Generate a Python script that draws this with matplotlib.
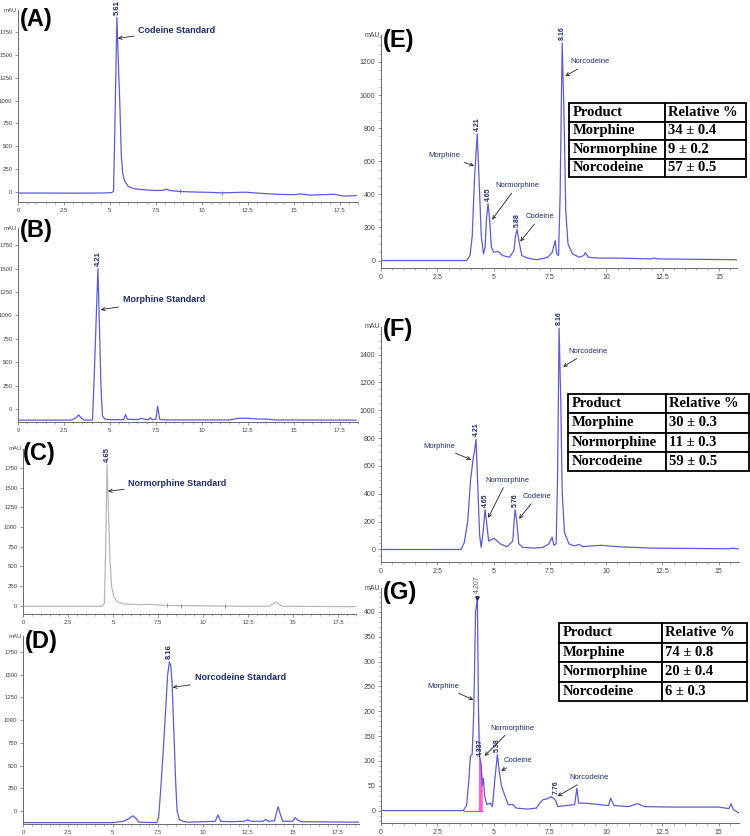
#!/usr/bin/env python
"""
HPLC chromatograms: standards (A-D) and biotransformation products (E-G).
Outputs: out.png
"""
import matplotlib
matplotlib.use("Agg")
import matplotlib.pyplot as plt
from matplotlib.ticker import MultipleLocator, FuncFormatter

plt.rcParams["font.family"] = ["Liberation Sans", "DejaVu Sans"]

# ---------------------------------------------------------------- data
# (A) codeine standard
A_t = [0, 1.5, 3.0, 4.5, 5.1, 5.2, 5.26, 5.38, 5.48, 5.55, 5.62, 5.7, 5.8, 6.0, 6.3,
       6.8, 7.5, 7.9, 8.05, 8.3, 8.8, 9.5, 10.5, 11.1, 12.0, 12.4, 13.2, 14.0, 15.0,
       15.4, 15.9, 16.6, 17.2, 17.7, 18.4]
A_y = [-12, -12, -13, -12, -8, 10, 600, 1910, 1300, 900, 400, 200, 120, 60, 35,
       25, 15, 18, 30, 15, 5, 0, -5, -10, -5, -3, -15, -25, -30,
       -22, -35, -30, -25, -45, -40]
A_marks_t = [8.8, 11.1]
A_marks_y = [5, -10]

# (B) morphine standard
B_t = [0, 2.9, 3.15, 3.3, 3.45, 3.6, 4.05, 4.12, 4.35, 4.52, 4.6, 4.75, 5.0, 5.75,
       5.85, 5.95, 6.5, 6.7, 6.85, 7.1, 7.2, 7.3, 7.5, 7.6, 7.7, 8.0, 11.5, 12.0,
       12.5, 13.0, 13.6, 14.0, 18.4]
B_y = [-120, -120, -95, -65, -100, -120, -120, 200, 1500, 200, -80, -110, -115, -115,
       -60, -110, -115, -100, -110, -115, -95, -115, -110, 30, -110, -118, -118, -100,
       -100, -108, -110, -118, -120]

# (C) normorphine standard
C_t = [0, 4.4, 4.52, 4.58, 4.67, 4.75, 4.83, 4.92, 5.05, 5.25, 5.6, 6.5, 7.0, 7.5,
       8.0, 10.0, 12.0, 13.7, 13.9, 14.05, 14.2, 14.4, 18.5]
C_y = [-5, -5, 30, 600, 1790, 1200, 600, 250, 110, 50, 25, 15, 20, 10,
       5, 0, -5, -5, 30, 50, 20, -5, -10]
C_marks_t = [8.0, 8.8, 11.2]
C_marks_y = [5, 3, 0]

# (D) norcodeine standard
D_t = [0, 5.0, 5.6, 5.9, 6.1, 6.25, 6.45, 7.45, 7.55, 7.65, 7.8, 7.95, 8.05, 8.15,
       8.22, 8.3, 8.4, 8.5, 8.58, 8.7, 8.9, 9.2, 10.0, 10.7, 10.85, 11.0, 11.5,
       12.3, 12.5, 12.7, 13.35, 13.5, 13.65, 14.0, 14.1, 14.2, 14.3, 14.45, 15.0,
       15.15, 15.3, 15.5, 18.7]
D_y = [-125, -125, -110, -80, -50, -70, -120, -125, -60, 200, 650, 1150, 1500, 1640,
       1600, 1400, 850, 300, 0, -90, -110, -120, -115, -110, -40, -110, -115,
       -110, -95, -110, -110, -90, -110, -105, -20, 50, -20, -110, -110,
       -70, -100, -115, -120]

# (E) sample 1
E_t = [0, 3.8, 3.95, 4.05, 4.15, 4.27, 4.35, 4.45, 4.55, 4.62, 4.68, 4.75, 4.82,
       4.9, 5.0, 5.2, 5.4, 5.7, 5.9, 5.97, 6.04, 6.12, 6.25, 6.5, 6.9, 7.1, 7.4,
       7.6, 7.73, 7.8, 7.88, 7.95, 8.04, 8.12, 8.2, 8.3, 8.5, 8.8, 9.0, 9.07, 9.2,
       9.6, 10.5, 12.0, 12.1, 12.3, 15.8]
E_y = [0, 0, 30, 150, 500, 766, 500, 150, 40, 80, 250, 344, 250,
       80, 50, 55, 30, 20, 60, 150, 187, 120, 30, 15, 5, 10, 20,
       50, 120, 40, 30, 400, 1315, 900, 300, 100, 40, 20, 30, 48, 20,
       15, 15, 10, 15, 10, 5]

# (F) sample 2
F_t = [0, 3.55, 3.7, 3.85, 3.98, 4.09, 4.15, 4.22, 4.3, 4.38, 4.45, 4.55, 4.62,
       4.7, 4.78, 4.9, 5.0, 5.1, 5.3, 5.6, 5.85, 5.92, 5.96, 6.03, 6.12, 6.3, 6.8,
       7.2, 7.45, 7.6, 7.68, 7.78, 7.84, 7.91, 7.98, 8.05, 8.15, 8.35, 8.6, 8.8,
       8.95, 9.3, 9.8, 10.5, 12.0, 15.5, 15.6, 15.9]
F_y = [0, 0, 50, 200, 500, 650, 700, 792, 450, 100, 15, 150, 286,
       180, 60, 70, 80, 70, 40, 20, 60, 220, 286, 200, 40, 15, 10,
       15, 40, 88, 30, 40, 500, 1590, 1100, 400, 120, 40, 25, 37,
       20, 25, 30, 20, 10, 5, 10, 3]

# (G) sample 3
G_t = [0, 3.65, 3.8, 3.9, 3.97, 4.05, 4.12, 4.2, 4.28, 4.33, 4.37, 4.4, 4.45,
       4.5, 4.55, 4.6, 4.7, 4.85, 4.95, 5.05, 5.17, 5.25, 5.35, 5.5, 5.65, 5.86,
       6.0, 6.5, 6.9, 7.05, 7.2, 7.4, 7.55, 7.65, 7.76, 7.85, 8.2, 8.6, 8.7, 8.78,
       9.0, 9.5, 10.1, 10.2, 10.35, 11.0, 11.4, 11.7, 13.0, 15.0, 15.45, 15.55,
       15.65, 15.9]
G_y = [0, 0, 10, 60, 110, 113, 200, 400, 428, 200, 110, 105, 90,
       50, 65, 30, 12, 15, 8, 60, 113, 80, 50, 30, 12, 12,
       5, 3, 5, 15, 22, 24, 28, 25, 20, 8, 10, 12, 45, 15,
       15, 13, 10, 25, 10, 8, 14, 8, 7, 7, 4, 14,
       2, -5]
G_integ = (4.33, 4.5)       # shaded (magenta) integration window
G_base = [3.7, 4.5]         # integration baseline

# peak labels
A_pk = (["5.61"], [5.38], [1910])
B_pk = (["4.21"], [4.35], [1500])
C_pk = (["4.65"], [4.67], [1790])
D_pk = (["8.16"], [8.15], [1640])
E_pk = (["4.21", "4.65", "5.88", "8.16"], [4.27, 4.75, 6.04, 8.04], [766, 344, 187, 1315])
F_pk = (["4.21", "4.65", "5.76", "8.16"], [4.22, 4.62, 5.96, 7.91], [792, 286, 286, 1590])
G_pk = (["4.337", "5.38", "7.76"], [4.4, 5.17, 7.76], [105, 113, 28])
G_main = ("4.207", 4.28, 428)

# relative composition tables
products = ["Morphine", "Normorphine", "Norcodeine"]
E_rel = ["34 ± 0.4", "9 ± 0.2", "57 ± 0.5"]
F_rel = ["30 ± 0.3", "11 ± 0.3", "59 ± 0.5"]
G_rel = ["74 ± 0.8", "20 ± 0.4", "6 ± 0.3"]

# ---------------------------------------------------------------- style
W, H = 750, 836
TRACE = "#5c5cd8"
GREY_TRACE = "#b8b8b8"
NAVY = "#1f2d6e"
AXIS = "#6a6a6a"
PINK = "#ff44cc"

fig = plt.figure(figsize=(W / 100, H / 100), dpi=100, facecolor="white")


def px_axes(left, top, right, bottom):
    return fig.add_axes([left / W, 1 - bottom / H, (right - left) / W, (bottom - top) / H])


def style(ax, xlim, ylim, ymajor, yminor, fs):
    ax.set_xlim(*xlim)
    ax.set_ylim(*ylim)
    ax.xaxis.set_major_locator(MultipleLocator(2.5))
    ax.xaxis.set_minor_locator(MultipleLocator(0.5))
    ax.xaxis.set_major_formatter(FuncFormatter(lambda v, p: f"{v:g}"))
    ax.yaxis.set_major_locator(MultipleLocator(ymajor))
    if yminor:
        ax.yaxis.set_minor_locator(MultipleLocator(yminor))
    for s in ("top", "right"):
        ax.spines[s].set_visible(False)
    for s in ("left", "bottom"):
        ax.spines[s].set_color(AXIS)
        ax.spines[s].set_linewidth(0.7)
    ax.tick_params(which="major", length=2.5, width=0.5, colors=AXIS,
                   labelsize=fs, pad=1.5, labelcolor="#444444")
    ax.tick_params(which="minor", length=1.5, width=0.4, colors=AXIS)
    ax.text(-0.004, 1.0, "mAU", transform=ax.transAxes, ha="right", va="center",
            fontsize=fs, color="#444444")
    ax.patch.set_alpha(0)


def peak_labels(ax, pk, fs, weight="bold", color=NAVY):
    for lbl, t, h in zip(*pk):
        ax.annotate(lbl, (t, h), xytext=(0, 2), textcoords="offset points",
                    rotation=90, ha="center", va="bottom", fontsize=fs,
                    fontweight=weight, color=color, annotation_clip=False)


def label(ax, text, target, pos, fs, weight="normal", ha="center"):
    ax.annotate(text, xy=target, xytext=pos, fontsize=fs, fontweight=weight,
                color=NAVY, ha=ha, va="center",
                arrowprops=dict(arrowstyle="->", color="#222222", lw=0.6,
                                shrinkA=1, shrinkB=0, mutation_scale=6))


def panel_tag(x, y, tag):
    fig.text(x / W, 1 - y / H, tag, fontsize=17, fontweight="bold", va="top", ha="left")


def table(left, top, right, bottom, rel, col):
    tax = px_axes(left, top, right, bottom)
    tax.axis("off")
    rows = [["Product", "Relative %"]] + [[p, r] for p, r in zip(products, rel)]
    tbl = tax.table(cellText=rows, colWidths=[col, 1 - col], bbox=[0, 0, 1, 1],
                    cellLoc="left")
    tbl.auto_set_font_size(False)
    for cell in tbl.get_celld().values():
        cell.set_linewidth(1.3)
        cell.set_edgecolor("black")
        cell.PAD = 0.04
        cell.get_text().set_fontfamily("Liberation Serif")
        cell.get_text().set_fontweight("bold")
        cell.get_text().set_fontsize(10.5)


# ---------------------------------------------------------------- left column
axA = px_axes(18, 10, 358, 202)
axA.plot(A_t, A_y, color=TRACE, lw=0.9)
axA.plot(A_marks_t, A_marks_y, ls="none", marker="|", ms=3, color=TRACE, mew=0.6)
style(axA, (0, 18.5), (-110, 1990), 250, None, 4.3)
peak_labels(axA, A_pk, 5.5)
label(axA, "Codeine Standard", (5.43, 1680), (6.55, 1770), 6.5, "bold", ha="left")

axB = px_axes(18, 228, 358, 422)
axB.plot(B_t, B_y, color=TRACE, lw=0.9)
style(axB, (0, 18.5), (-140, 1934), 250, None, 4.3)
peak_labels(axB, B_pk, 5.5)
label(axB, "Morphine Standard", (4.5, 1060), (5.7, 1166), 6.5, "bold", ha="left")

axC = px_axes(23, 449, 356, 614)
axC.plot(C_t, C_y, color=GREY_TRACE, lw=0.9)
axC.plot(C_marks_t, C_marks_y, ls="none", marker="|", ms=3, color="#888888", mew=0.6)
style(axC, (0, 18.5), (-103, 1990), 250, None, 4.3)
peak_labels(axC, C_pk, 5.5)
label(axC, "Normorphine Standard", (4.72, 1454), (5.83, 1557), 6.5, "bold", ha="left")

axD = px_axes(23, 636, 359, 824)
axD.plot(D_t, D_y, color=TRACE, lw=0.9)
style(axD, (0, 18.7), (-140, 1924), 250, None, 4.3)
peak_labels(axD, D_pk, 5.5)
label(axD, "Norcodeine Standard", (8.33, 1360), (9.55, 1467), 6.5, "bold", ha="left")

# ---------------------------------------------------------------- right column
axE = px_axes(381, 35, 737, 268)
axE.plot(E_t, E_y, color=TRACE, lw=0.9)
style(axE, (0, 15.8), (-45, 1363), 200, 50, 5)
peak_labels(axE, E_pk, 5)
label(axE, "Morphine", (4.13, 573), (2.8, 633), 5.5)
label(axE, "Normorphine", (4.93, 247), (6.04, 452), 5.5)
label(axE, "Codeine", (6.18, 115), (7.07, 265), 5.5)
label(axE, "Norcodeine", (8.18, 1115), (9.29, 1200), 5.5)

axF = px_axes(381, 327, 739, 562)
axF.plot(F_t, F_y, color=TRACE, lw=0.9)
style(axF, (0, 15.9), (-90, 1598), 200, 50, 5)
peak_labels(axF, F_pk, 5)
label(axF, "Morphine", (4.0, 645), (2.58, 740), 5.5)
label(axF, "Normorphine", (4.76, 227), (5.6, 498), 5.5)
label(axF, "Codeine", (6.13, 220), (6.93, 381), 5.5)
label(axF, "Norcodeine", (8.09, 1312), (9.2, 1422), 5.5)

axG = px_axes(381, 588, 739, 823)
axG.plot(G_t, G_y, color=TRACE, lw=0.9, zorder=3)
axG.fill_between(G_t, 0, G_y, where=[G_integ[0] <= t <= G_integ[1] for t in G_t],
                 color=PINK, alpha=0.85, lw=0, zorder=2)
axG.plot(G_base, [0, 0], color=PINK, lw=1.0, zorder=2)
style(axG, (0, 15.9), (-25, 448), 50, 10, 5)
axG.plot([G_main[1]], [G_main[2]], marker="v", ms=2.5, color=NAVY, zorder=4)
peak_labels(axG, ([G_main[0]], [G_main[1]], [G_main[2] + 4]), 5, weight="normal",
            color="#555555")
peak_labels(axG, G_pk, 5)
label(axG, "Morphine", (4.1, 223), (2.76, 250), 5.5)
label(axG, "Normorphine", (4.6, 110), (5.83, 166), 5.5)
label(axG, "Codeine", (5.34, 80), (6.1, 100), 5.5)
label(axG, "Norcodeine", (7.84, 29), (9.26, 66), 5.5)

# ---------------------------------------------------------------- tags + tables
panel_tag(20, 8, "(A)")
panel_tag(20, 219, "(B)")
panel_tag(23, 442, "(C)")
panel_tag(25, 630, "(D)")
panel_tag(383, 29, "(E)")
panel_tag(383, 318, "(F)")
panel_tag(383, 581, "(G)")

table(569, 103, 746, 177, E_rel, 0.542)
table(568, 394, 749, 471, F_rel, 0.54)
table(559, 623, 747, 701, G_rel, 0.548)

fig.savefig("out.png", dpi=100, facecolor="white")
plt.close(fig)
